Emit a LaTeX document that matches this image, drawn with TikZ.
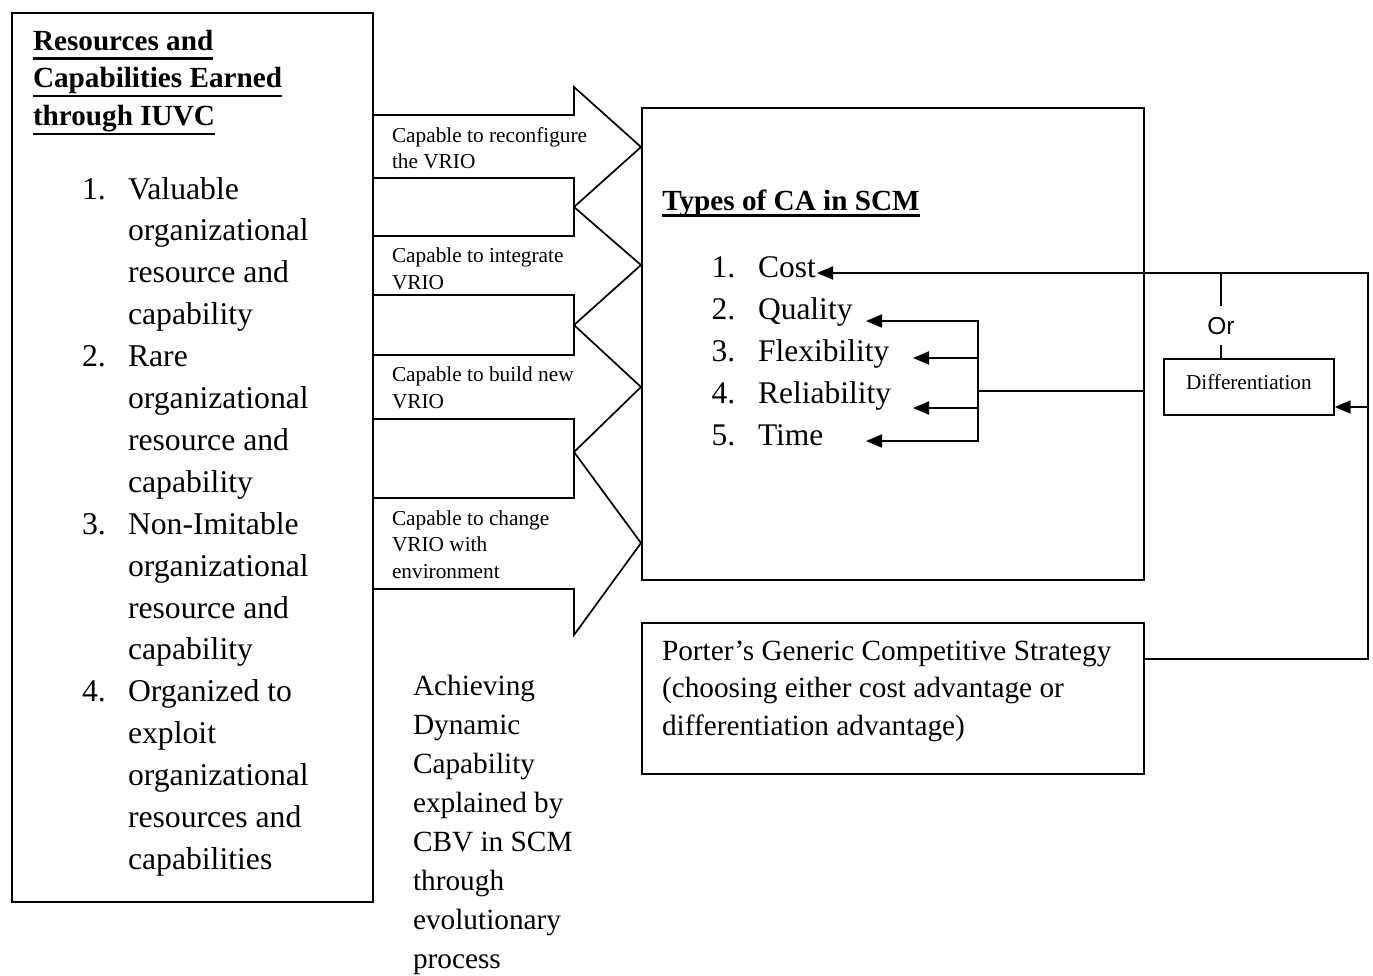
\documentclass[tikz,border=0pt]{standalone}
\usepackage{fontspec}
\setmainfont{Liberation Serif}
\newfontfamily\orfont{Liberation Sans}
\usetikzlibrary{arrows.meta}

% font sizes (1pt = one unit of the picture)
\newcommand\fList{\fontsize{31.7}{40}\selectfont}
\newcommand\fHead{\bfseries\fontsize{29.2}{36}\selectfont}
\newcommand\fLab{\fontsize{21.3}{26}\selectfont}
\newcommand\fCA{\fontsize{31.5}{40}\selectfont}
\newcommand\fText{\fontsize{29.3}{37}\selectfont}
\newcommand\fSmall{\fontsize{21.2}{26}\selectfont}

% #1 name prefix, #2 x, #3 first baseline, #4 line pitch, #5 font, #6 lines
\newcommand\textlines[6]{%
  \foreach \linetext [count=\idx from 0] in {#6}{%
    \node[txt,font=#5] (#1-\idx) at (#2,{#3+\idx*#4}) {\linetext};}}

\begin{document}
\begin{tikzpicture}[x=1pt,y=-1pt,
  >={Triangle[length=16pt,width=13pt]},
  box/.style={draw, line width=1.9pt, inner sep=0pt, anchor=north west},
  txt/.style={anchor=base west, inner sep=0pt, outer sep=0pt},
  blk/.style={draw, line width=1.7pt, line join=miter},
  conn/.style={line width=1.9pt},
  arr/.style={conn, ->},
  thinln/.style={line width=1.5pt}]

\useasboundingbox (0,0) rectangle (1373,975);

% boxes
\node[box, minimum width=361pt, minimum height=889pt] (res) at (11,12) {};
\node[box, minimum width=502pt, minimum height=472pt] (ca) at (641,107) {};
\node[box, minimum width=502pt, minimum height=151pt] (porter) at (641,622) {};
\node[box, line width=1.7pt, minimum width=170pt, minimum height=56pt] (diff) at (1163,358) {};

% block arrows from the resource box into the CA box
\draw[blk] (res.east |- 0,115) -- (574,115) -- (574,87) -- (641,147) -- (574,207) -- (574,178) -- (res.east |- 0,178);
\draw[blk] (res.east |- 0,236) -- (574,236) -- (574,207) -- (641,265) -- (574,325) -- (574,295) -- (res.east |- 0,295);
\draw[blk] (res.east |- 0,355) -- (574,355) -- (574,325) -- (641,387) -- (574,452) -- (574,419) -- (res.east |- 0,419);
\draw[blk] (res.east |- 0,498) -- (574,498) -- (574,452) -- (641,543) -- (574,635) -- (574,589) -- (res.east |- 0,589);

% left box: heading and list
\textlines{ttl}{33}{50}{37.8}{\fHead}{Resources and,Capabilities Earned,through IUVC}
\foreach \idx in {0,1,2}
  \draw[line width=2.4pt] ([yshift=-8.3pt]ttl-\idx.base west) -- ([yshift=-8.3pt]ttl-\idx.base east);

\foreach \n/\y in {1/199,2/366.6,3/534.2,4/701.8}
  \node[txt,font=\fList] (num-\n) at (82,\y) {\n.};
\textlines{va}{128}{199}{41.9}{\fList}{Valuable,organizational,resource and,capability}
\textlines{ra}{128}{366.6}{41.9}{\fList}{Rare,organizational,resource and,capability}
\textlines{ni}{128}{534.2}{41.9}{\fList}{Non-Imitable,organizational,resource and,capability}
\textlines{or}{128}{701.8}{41.9}{\fList}{Organized to,exploit,organizational,resources and,capabilities}

% arrow labels
\textlines{la}{392}{142}{26.7}{\fLab}{Capable to reconfigure,the VRIO}
\textlines{lb}{392}{262.5}{26.7}{\fLab}{Capable to integrate,VRIO}
\textlines{lc}{392}{381.7}{26.7}{\fLab}{Capable to build new,VRIO}
\textlines{ld}{392}{525}{26.7}{\fLab}{Capable to change,VRIO with,environment}

% caption under the arrows
\textlines{dc}{413}{695.7}{39}{\fText}{Achieving,Dynamic,Capability,explained by,CBV in SCM,through,evolutionary,process}

% CA box
\node[txt,font=\fHead] (catitle) at (662.3,210) {Types of CA in SCM};
\draw[line width=2.4pt] ([yshift=-5.5pt]catitle.base west) -- ([yshift=-5.5pt]catitle.base east);
\foreach \n/\y in {1/277.5,2/319.4,3/361.3,4/403.2,5/445.1}
  \node[txt,font=\fCA] (canum-\n) at (711.7,\y) {\n.};
\node[txt,font=\fCA] (cost) at (758,277.5) {Cost};
\node[txt,font=\fCA] (quality) at (758,319.4) {Quality};
\node[txt,font=\fCA] (flex) at (758,361.3) {Flexibility};
\node[txt,font=\fCA] (rel) at (758,403.2) {Reliability};
\node[txt,font=\fCA] (time) at (758,445.1) {Time};

% Porter box text
\textlines{po}{662}{660}{37.5}{\fText}{{Porter’s Generic Competitive Strategy},{(choosing either cost advantage or},{differentiation advantage)}}

% differentiation and "Or"
\node[anchor=base, inner sep=0pt, font=\fSmall] (difftext) at (diff.center |- 0,389.5) {Differentiation};
\node[anchor=base, inner sep=11pt, font=\orfont\fontsize{24.5}{29}\selectfont] (ortext) at (1221,334) {Or};

% connectors
\coordinate (cr) at (1368,273);
\coordinate (costtip) at (817,273);
\coordinate (pj) at (porter.north east |- 0,659);
\coordinate (dj) at (cr |- 0,407);
\draw[arr] (pj) -- (pj -| cr) -- (cr) -- (costtip);
\draw[arr] (dj) -- (dj -| diff.east);
\draw[thinln] (ortext.north |- cr) -- (ortext.north);
\draw[thinln] (ortext.south) -- (ortext.south |- diff.north);

\coordinate (bq) at (978,321);
\coordinate (bf) at (978,358);
\coordinate (br) at (978,408);
\coordinate (bt) at (978,441);
\coordinate (bm) at (978,391);
\coordinate (qtip) at (866,321);
\coordinate (ftip) at (913,358);
\coordinate (rtip) at (913,408);
\coordinate (ttip) at (866,441);
\draw[conn, <->] (qtip) -- (bq) -- (bt) -- (ttip);
\draw[arr] (bf) -- (ftip);
\draw[arr] (br) -- (rtip);
\draw[conn] (bm) -- (bm -| ca.east);

\end{tikzpicture}
\end{document}
